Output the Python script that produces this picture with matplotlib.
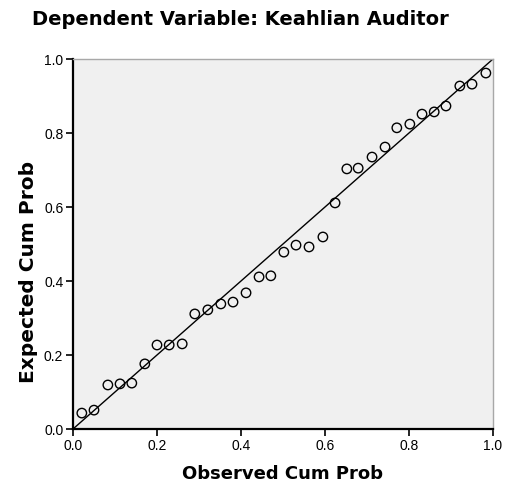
import matplotlib
matplotlib.use("Agg")
import matplotlib.pyplot as plt

observed = [0.021, 0.050, 0.083, 0.112, 0.140, 0.171, 0.200, 0.229, 0.260, 0.290,
            0.321, 0.352, 0.381, 0.412, 0.443, 0.471, 0.502, 0.531, 0.562, 0.595,
            0.624, 0.652, 0.679, 0.712, 0.743, 0.771, 0.802, 0.831, 0.860, 0.888,
            0.921, 0.950, 0.983]
expected = [0.043, 0.051, 0.119, 0.122, 0.124, 0.176, 0.227, 0.227, 0.230, 0.311,
            0.322, 0.338, 0.343, 0.368, 0.411, 0.414, 0.478, 0.497, 0.492, 0.519,
            0.611, 0.703, 0.705, 0.735, 0.762, 0.814, 0.824, 0.851, 0.857, 0.873,
            0.927, 0.932, 0.962]
ticks = [0.0, 0.2, 0.4, 0.6, 0.8, 1.0]
tick_labels = ["0.0", "0.2", "0.4", "0.6", "0.8", "1.0"]

plt.rcParams['font.family'] = ['Liberation Sans', 'DejaVu Sans']

fig = plt.figure(figsize=(5.05, 4.86), dpi=100)
ax = fig.add_axes([73/505, 1-429/486, 420/505, 370/486])
ax.set_facecolor('#f0f0f0')

ax.plot([0, 1], [0, 1], color='black', lw=1.0, zorder=2)
ax.scatter(observed, expected, s=46, facecolors='none', edgecolors='black',
           linewidths=1.0, zorder=3)

ax.set_xlim(0, 1)
ax.set_ylim(0, 1)
ax.set_xticks(ticks)
ax.set_xticklabels(tick_labels)
ax.set_yticks(ticks)
ax.set_yticklabels(tick_labels)
ax.tick_params(direction='out', length=5, width=1.2, labelsize=10, colors='black', pad=2)

for side in ['left', 'bottom']:
    ax.spines[side].set_color('black')
    ax.spines[side].set_linewidth(1.6)
for side in ['top', 'right']:
    ax.spines[side].set_color('#a8a8a8')
    ax.spines[side].set_linewidth(1.0)

fig.text(0.475, 0.959, "Dependent Variable: Keahlian Auditor", ha='center', va='center',
         fontsize=14, fontweight='bold', family='DejaVu Sans')
fig.text(0.56, 0.024, "Observed Cum Prob", ha='center', va='center',
         fontsize=13, fontweight='bold', family='DejaVu Sans')
fig.text(0.057, 0.44, "Expected Cum Prob", ha='center', va='center', rotation=90,
         fontsize=14.5, fontweight='bold', family='DejaVu Sans')

fig.savefig("out.png", dpi=100)
